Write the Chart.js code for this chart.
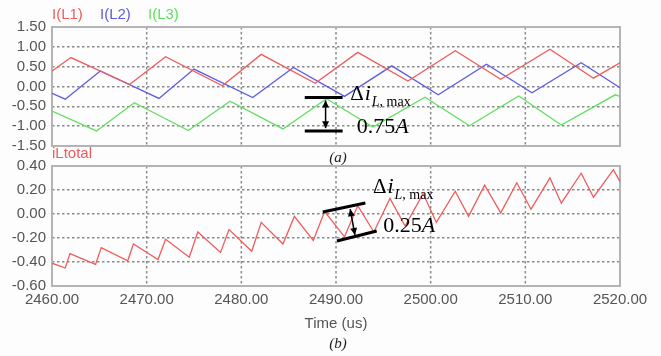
<!DOCTYPE html>
<html>
<head>
<meta charset="utf-8">
<script src="https://cdn.jsdelivr.net/npm/chart.js@4/dist/chart.umd.min.js"></script>
<style>
    body { margin: 0; background: #fdfdfd; }
    #wrap { position: relative; width: 661px; height: 356px; }
    .box { position: absolute; left: 0; width: 661px; }
</style>
</head>
<body>
<div id="wrap">
    <div class="box" style="top:0;height:170px"><canvas id="js--chart--1"></canvas></div>
    <div class="box" style="top:140px;height:216px"><canvas id="js--chart--2"></canvas></div>
</div>
<script>
// time (us) and current (A)
const timeL1 = [2460, 2462.0, 2468.2, 2472.0, 2478.0, 2482.1, 2487.8, 2492.3, 2497.6, 2502.6, 2507.4, 2512.6, 2517.2, 2520];
const iL1 = [0.39, 0.73, 0.05, 0.75, 0.02, 0.81, 0.08, 0.86, 0.14, 0.90, 0.18, 0.94, 0.21, 0.60];

const timeL2 = [2460, 2461.4, 2465.1, 2471.3, 2475.0, 2481.2, 2485.5, 2490.9, 2495.9, 2500.8, 2505.9, 2510.7, 2515.9, 2520];
const iL2 = [-0.17, -0.32, 0.39, -0.30, 0.44, -0.28, 0.48, -0.25, 0.52, -0.21, 0.56, -0.16, 0.60, -0.03];

const timeL3 = [2460, 2464.7, 2468.7, 2474.4, 2478.8, 2484.4, 2489.0, 2493.9, 2499.4, 2504.1, 2509.3, 2513.8, 2519.5, 2520];
const iL3 = [-0.62, -1.12, -0.41, -1.11, -0.37, -1.07, -0.31, -1.02, -0.27, -0.99, -0.24, -0.97, -0.21, -0.25];

const timeTotal = [2460, 2461.4, 2461.9, 2464.6, 2465.2, 2468.0, 2468.6, 2471.2, 2472.0, 2474.5, 2475.4, 2477.8, 2478.7,
    2481.1, 2482.1, 2484.4, 2485.6, 2487.6, 2488.8, 2490.9, 2492.3, 2494.0, 2495.7, 2497.3, 2499.2, 2500.6, 2502.6,
    2504.0, 2505.7, 2507.4, 2509.1, 2510.6, 2512.6, 2513.8, 2515.9, 2517.2, 2519.3, 2520];
const iTotal = [-0.41, -0.45, -0.33, -0.42, -0.28, -0.39, -0.25, -0.38, -0.21, -0.36, -0.15, -0.32, -0.13,
    -0.31, -0.07, -0.25, -0.02, -0.22, 0.02, -0.19, 0.07, -0.15, 0.13, -0.10, 0.17, -0.07, 0.19,
    -0.02, 0.24, 0.01, 0.26, 0.04, 0.30, 0.09, 0.34, 0.14, 0.37, 0.27];

const timeTicks = [2460, 2470, 2480, 2490, 2500, 2510, 2520];
const ticksTop = [-1.5, -1.0, -0.5, 0, 0.5, 1.0, 1.5];
const ticksBottom = [-0.6, -0.4, -0.2, 0, 0.2, 0.4];

const red = '#ee5c5c';
const blue = '#5c5ce4';
const green = '#62de62';

function points(xs, ys) {
    return xs.map(function (x, i) { return { x: x, y: ys[i] }; });
}

function line(label, xs, ys, color) {
    return {
        label: label,
        data: points(xs, ys),
        borderColor: color,
        borderWidth: 1.3,
        pointRadius: 0,
        tension: 0,
    }
}

// frame + vertical dotted grid + texts that sit around the plot
function extras(opts) {
    return {
        id: 'extras',
        beforeDatasetsDraw(chart) {
            const ctx = chart.ctx;
            const a = chart.chartArea;
            const xs = chart.scales.x;
            ctx.save();
            ctx.strokeStyle = '#8a8a8a';
            ctx.lineWidth = 1.5;
            ctx.setLineDash([2.5, 2.5]);
            timeTicks.slice(1, 6).forEach(function (t) {
                const px = xs.getPixelForValue(t);
                ctx.beginPath(); ctx.moveTo(px, a.top); ctx.lineTo(px, a.bottom); ctx.stroke();
            });
            ctx.setLineDash([]);
            ctx.strokeStyle = '#b4b4b4';
            ctx.lineWidth = 2;
            ctx.strokeRect(a.left, a.top, a.right - a.left, a.bottom - a.top);
            ctx.restore();
        },
        afterDraw(chart) {
            const ctx = chart.ctx;
            const a = chart.chartArea;
            const xs = chart.scales.x, ys = chart.scales.y;
            ctx.save();
            ctx.font = '15px "Liberation Sans", Arial, sans-serif';
            ctx.textBaseline = 'alphabetic';
            ctx.textAlign = 'left';
            opts.legend.forEach(function (l) {
                ctx.fillStyle = l.color;
                ctx.fillText(l.text, a.left + l.dx, l.y);
            });
            ctx.fillStyle = '#555';
            ctx.textAlign = 'center';
            if (opts.xTitle) {
                ctx.fillText(opts.xTitle, (a.left + a.right) / 2, opts.xTitleY);
            }
            ctx.fillStyle = '#222';
            ctx.font = 'italic 15px "Liberation Serif", serif';
            ctx.fillText(opts.caption, (a.left + a.right) / 2 + 2, opts.captionY);

            // delta-i annotation, placed in data coordinates
            const n = opts.note;
            const P = function (t, v) { return [xs.getPixelForValue(t), ys.getPixelForValue(v)]; };
            ctx.strokeStyle = '#000';
            ctx.fillStyle = '#000';
            ctx.lineWidth = 3;
            n.bars.forEach(function (b) {
                const p1 = P(b[0], b[1]), p2 = P(b[2], b[3]);
                ctx.beginPath(); ctx.moveTo(p1[0], p1[1]); ctx.lineTo(p2[0], p2[1]); ctx.stroke();
            });
            const s = P(n.arrow[0], n.arrow[1]), e = P(n.arrow[2], n.arrow[3]);
            const ang = Math.atan2(e[1] - s[1], e[0] - s[0]);
            ctx.lineWidth = 1.5;
            ctx.beginPath(); ctx.moveTo(s[0], s[1]); ctx.lineTo(e[0], e[1]); ctx.stroke();
            [[s, ang + Math.PI], [e, ang]].forEach(function (h) {
                const p = h[0], g = h[1];
                ctx.beginPath();
                ctx.moveTo(p[0], p[1]);
                ctx.lineTo(p[0] - 7 * Math.cos(g) + 3.5 * Math.sin(g), p[1] - 7 * Math.sin(g) - 3.5 * Math.cos(g));
                ctx.lineTo(p[0] - 7 * Math.cos(g) - 3.5 * Math.sin(g), p[1] - 7 * Math.sin(g) + 3.5 * Math.cos(g));
                ctx.closePath();
                ctx.fill();
            });
            ctx.textAlign = 'left';
            const d = P(n.delta[0], n.delta[1]);
            ctx.font = '21px "Liberation Serif", serif';
            ctx.fillText('\u0394', d[0], d[1]);
            let x = d[0] + ctx.measureText('\u0394').width;
            ctx.font = 'italic 22px "Liberation Serif", serif';
            ctx.fillText('i', x + 1, d[1]);
            x += ctx.measureText('i').width + 2;
            ctx.font = 'italic 14px "Liberation Serif", serif';
            ctx.fillText('L', x, d[1] + 6);
            x += ctx.measureText('L').width;
            ctx.font = '14px "Liberation Serif", serif';
            ctx.fillText(', max', x, d[1] + 6);
            const v = P(n.value[0], n.value[1]);
            ctx.font = '22px "Liberation Serif", serif';
            ctx.fillText(n.text, v[0], v[1]);
            const w = ctx.measureText(n.text).width;
            ctx.font = 'italic 22px "Liberation Serif", serif';
            ctx.fillText('A', v[0] + w, v[1]);
            ctx.restore();
        }
    }
}

function xAxis(showTicks) {
    return {
        type: 'linear',
        min: 2460,
        max: 2520,
        afterBuildTicks: function (scale) { scale.ticks = timeTicks.map(function (t) { return { value: t }; }); },
        grid: { display: false, drawTicks: false },
        border: { display: false },
        ticks: {
            display: showTicks,
            autoSkip: false,
            padding: 5,
            color: '#555',
            font: { family: '"Liberation Sans", Arial, sans-serif', size: 15 },
            maxRotation: 0,
            callback: function (v) { return v.toFixed(2); },
        },
        afterFit: function (scale) { scale.height = showTicks ? 30 : 0; },
    }
}

// horizontal dotted grid comes from the y scale itself
function yAxis(min, max, list) {
    return {
        min: min,
        max: max,
        afterBuildTicks: function (scale) { scale.ticks = list.map(function (t) { return { value: t }; }); },
        grid: { display: true, drawTicks: false, color: '#8a8a8a', lineWidth: 1.6 },
        border: { display: false, dash: [2.5, 2.5] },
        ticks: {
            autoSkip: false,
            padding: 6,
            color: '#555',
            font: { family: '"Liberation Sans", Arial, sans-serif', size: 15 },
            callback: function (v) { return v.toFixed(2); },
        },
        afterFit: function (scale) { scale.width = 52; },
    }
}

const config1 = {
    type: 'line',
    data: {
        datasets: [
            line('I(L1)', timeL1, iL1, red),
            line('I(L2)', timeL2, iL2, blue),
            line('I(L3)', timeL3, iL3, green),
        ]
    },
    options: {
        responsive: true,
        maintainAspectRatio: false,
        animation: false,
        layout: { padding: { top: 27, right: 41, bottom: 24, left: 0 } },
        plugins: { legend: { display: false }, tooltip: { enabled: false } },
        scales: { x: xAxis(false), y: yAxis(-1.5, 1.5, ticksTop) },
    },
    plugins: [extras({
        legend: [
            { text: 'I(L1)', color: red, dx: 0, y: 19 },
            { text: 'I(L2)', color: blue, dx: 48, y: 19 },
            { text: 'I(L3)', color: green, dx: 96, y: 19 },
        ],
        caption: '(a)',
        captionY: 162,
        note: {
            bars: [[2486.7, -0.28, 2490.7, -0.28], [2486.7, -1.12, 2490.7, -1.12]],
            arrow: [2488.9, -0.35, 2488.9, -1.05],
            delta: [2491.5, -0.34],
            value: [2492.2, -1.18],
            text: '0.75',
        },
    })],
}

const config2 = {
    type: 'line',
    data: {
        datasets: [
            line('iLtotal', timeTotal, iTotal, red),
        ]
    },
    options: {
        responsive: true,
        maintainAspectRatio: false,
        animation: false,
        layout: { padding: { top: 26, right: 41, bottom: 40, left: 0 } },
        plugins: { legend: { display: false }, tooltip: { enabled: false } },
        scales: { x: xAxis(true), y: yAxis(-0.6, 0.4, ticksBottom) },
    },
    plugins: [extras({
        legend: [
            { text: 'iLtotal', color: red, dx: 0, y: 18 },
        ],
        xTitle: 'Time (us)',
        xTitleY: 188,
        caption: '(b)',
        captionY: 208,
        note: {
            bars: [[2488.6, 0.017, 2493.1, 0.092], [2490.1, -0.225, 2494.3, -0.142]],
            arrow: [2491.5, 0.04, 2492.0, -0.175],
            delta: [2493.9, 0.175],
            value: [2495.0, -0.148],
            text: '0.25',
        },
    })],
}

const chart1 = new Chart(document.getElementById("js--chart--1"), config1);
const chart2 = new Chart(document.getElementById("js--chart--2"), config2);
</script>
</body>
</html>
